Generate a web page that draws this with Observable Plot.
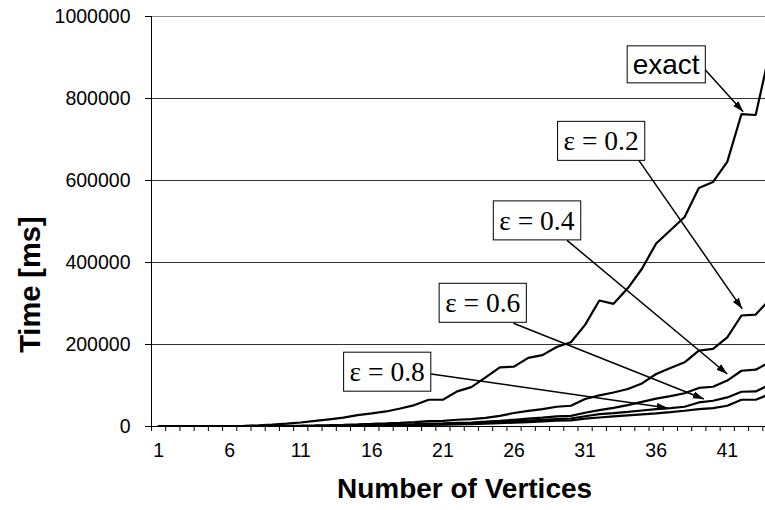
<!DOCTYPE html>
<html>
<head>
<meta charset="utf-8">
<script src="https://cdn.jsdelivr.net/npm/d3@7"></script>
<script src="https://cdn.jsdelivr.net/npm/@observablehq/plot@0.6"></script>
<style>
  html, body { margin: 0; padding: 0; background: #fff; overflow: hidden; }
  #chart svg { display: block; }
</style>
</head>
<body>
<div id="chart"></div>
<script>
// Number of vertices (x categories)
const vertices = [1, 2, 3, 4, 5, 6, 7, 8, 9, 10, 11, 12, 13, 14, 15, 16, 17, 18, 19, 20, 21, 22,
  23, 24, 25, 26, 27, 28, 29, 30, 31, 32, 33, 34, 35, 36, 37, 38, 39, 40, 41, 42, 43, 44];

// Running time in ms for the exact algorithm and each epsilon
const exactTimes = [0, 100, 250, 450, 700, 1100, 1700, 2800, 4500, 6800, 9800, 13500, 17500, 21500,
  27900, 32000, 36700, 44000, 52300, 65300, 65300, 85600, 96000, 120000, 144300, 146000, 167500,
  174000, 194000, 205400, 248000, 307300, 299200, 337000, 384800, 446500, 478500, 511000, 581900,
  596600, 645500, 762100, 759700, 916000];
const eps02Times = [0, 50, 100, 170, 260, 380, 550, 780, 1100, 1500, 2000, 2600, 3300, 4100, 5100,
  6200, 7500, 9000, 10800, 13000, 13800, 16500, 18200, 21000, 26000, 33000, 38000, 42500, 48200,
  50600, 67000, 76000, 83000, 91400, 105100, 128100, 142800, 156500, 185100, 189200, 217600,
  270700, 273100, 310000];
const eps04Times = [0, 30, 60, 100, 150, 220, 310, 430, 590, 800, 1050, 1350, 1700, 2100, 2600,
  3200, 3900, 4700, 5700, 6900, 7400, 8800, 9800, 11800, 14000, 16500, 19000, 21500, 24500, 26000,
  33500, 40000, 45500, 52000, 60000, 68000, 74000, 81000, 94000, 97000, 112000, 136000, 138600,
  157000];
const eps06Times = [0, 20, 40, 70, 110, 160, 230, 320, 440, 590, 780, 1000, 1280, 1600, 2000, 2450,
  3000, 3600, 4300, 5200, 5600, 6600, 7400, 8900, 10500, 12400, 14200, 16000, 18200, 19500, 25000,
  30000, 32500, 35500, 39000, 42500, 45000, 48200, 58700, 62800, 70900, 84800, 85600, 102000];
const eps08Times = [0, 15, 30, 55, 85, 125, 180, 250, 340, 460, 600, 780, 990, 1240, 1540, 1900,
  2300, 2800, 3350, 4000, 4300, 5100, 5700, 6800, 8100, 9500, 10900, 12300, 14000, 15000, 19000,
  22000, 24500, 27000, 29500, 32000, 35000, 38400, 42500, 45000, 50600, 65300, 65300, 79000];

const seriesNames = ["exact", "ε = 0.2", "ε = 0.4", "ε = 0.6", "ε = 0.8"];
const seriesValues = [exactTimes, eps02Times, eps04Times, eps06Times, eps08Times];

// Axis ticks and labels
const yTicks = [0, 200000, 400000, 600000, 800000, 1000000];
const xTickLabels = [1, 6, 11, 16, 21, 26, 31, 36, 41];
const xCategoryEdges = [0.5, 1.5, 2.5, 3.5, 4.5, 5.5, 6.5, 7.5, 8.5, 9.5, 10.5, 11.5, 12.5, 13.5,
  14.5, 15.5, 16.5, 17.5, 18.5, 19.5, 20.5, 21.5, 22.5, 23.5, 24.5, 25.5, 26.5, 27.5, 28.5, 29.5,
  30.5, 31.5, 32.5, 33.5, 34.5, 35.5, 36.5, 37.5, 38.5, 39.5, 40.5, 41.5, 42.5, 43.5];
const xTitle = "Number of Vertices";
const yTitle = "Time [ms]";

// Callout labels (box centre) and their arrows, in data coordinates
const noteX = [36.7, 32.13, 27.61, 23.8, 17.08];
const noteY = [882000, 695000, 501000, 300000, 132000];
const arrowFromX = [39.35, 34.77, 29.73, 25.96, 20.17];
const arrowFromY = [873800, 649600, 454000, 251800, 128100];
const arrowToX = [42.12, 42.05, 41.0, 39.35, 36.81];
const arrowToY = [767700, 287000, 128100, 67000, 45000];

const rows = [];
seriesNames.forEach((name, k) => {
  vertices.forEach((v, i) => rows.push({series: name, n: v, t: seriesValues[k][i]}));
});

const sans = "Liberation Sans, Arial, sans-serif";
const serif = "Liberation Serif, Times New Roman, serif";

const plot = Plot.plot({
  width: 765,
  height: 510,
  marginLeft: 151,
  marginRight: 0,
  marginTop: 16,
  marginBottom: 84,
  style: {fontFamily: sans, fontSize: "19.5px", background: "white", color: "black"},
  x: {type: "linear", domain: [0.5, 43.69], axis: null},
  y: {domain: [0, 1000000], axis: null},
  marks: [
    // horizontal gridlines
    Plot.ruleY(yTicks.slice(1, 5), {stroke: "#333", strokeWidth: 1}),
    Plot.ruleY([1000000], {stroke: "#888", strokeWidth: 1}),
    // axis lines
    Plot.ruleX([0.5], {stroke: "black", strokeWidth: 1}),
    Plot.ruleY([0], {stroke: "black", strokeWidth: 1}),
    // y tick marks
    Plot.ruleY(yTicks, {x1: () => 0.5, x2: () => 0.5, insetLeft: -6, stroke: "black", strokeWidth: 1}),
    // x tick marks between categories
    Plot.ruleX(xCategoryEdges, {y1: () => 0, y2: () => 0, insetBottom: -5, stroke: "black", strokeWidth: 1}),
    // tick labels
    Plot.text(yTicks, {y: d => d, text: d => String(d), frameAnchor: "left", textAnchor: "end", dx: -21, fontSize: 19.5}),
    Plot.text(xTickLabels, {x: d => d, text: d => String(d), frameAnchor: "bottom", dy: 30, fontSize: 19.5}),
    // axis titles
    Plot.text([xTitle], {frameAnchor: "bottom", dx: 6, dy: 71, fontSize: 28, fontWeight: "bold"}),
    Plot.text([yTitle], {x: () => 0.5, y: () => 346000, rotate: -90, dx: -121, fontSize: 29, fontWeight: "bold"}),
    // series
    Plot.line(rows, {x: "n", y: "t", z: "series", stroke: "black", strokeWidth: 2.2, strokeLinejoin: "miter", clip: true}),
    // callout arrows
    Plot.link([0, 1, 2, 3, 4], {
      x1: i => arrowFromX[i], y1: i => arrowFromY[i],
      x2: i => arrowToX[i], y2: i => arrowToY[i],
      stroke: "black", strokeWidth: 1.5, markerEnd: "arrow"
    }),
    // callout labels
    Plot.text([0], {x: i => noteX[i], y: i => noteY[i], text: i => seriesNames[i],
      fontFamily: sans, fontSize: 28}),
    Plot.text([1, 2, 3, 4], {x: i => noteX[i], y: i => noteY[i], text: i => seriesNames[i],
      fontFamily: serif, fontSize: 27.5})
  ]
});

document.getElementById("chart").append(plot);

// Filled arrowheads for the callout arrows
d3.select(plot).selectAll("marker").each(function () {
  const m = d3.select(this);
  m.attr("viewBox", "-11 -4 12 8")
    .attr("markerWidth", 12)
    .attr("markerHeight", 8)
    .attr("markerUnits", "userSpaceOnUse")
    .attr("refX", 0)
    .attr("refY", 0)
    .attr("fill", "black")
    .attr("stroke", "none");
  m.selectAll("*").remove();
  m.append("path").attr("d", "M-11,-3.6L0,0L-11,3.6Z");
});

// White framed boxes behind the callout labels
d3.select(plot).selectAll("text").each(function () {
  if (!seriesNames.includes(this.textContent)) return;
  const b = this.getBBox();
  const isSerif = this.textContent !== "exact";
  const h = isSerif ? 39 : 37;
  const padX = isSerif ? 6 : 5.5;
  const rect = document.createElementNS("http://www.w3.org/2000/svg", "rect");
  rect.setAttribute("x", b.x - padX);
  rect.setAttribute("y", b.y + b.height / 2 - h / 2);
  rect.setAttribute("width", b.width + 2 * padX);
  rect.setAttribute("height", h);
  rect.setAttribute("fill", "white");
  rect.setAttribute("stroke", "black");
  rect.setAttribute("stroke-width", 1);
  const tf = this.getAttribute("transform");
  if (tf) rect.setAttribute("transform", tf);
  this.parentNode.insertBefore(rect, this);
});
</script>
</body>
</html>
